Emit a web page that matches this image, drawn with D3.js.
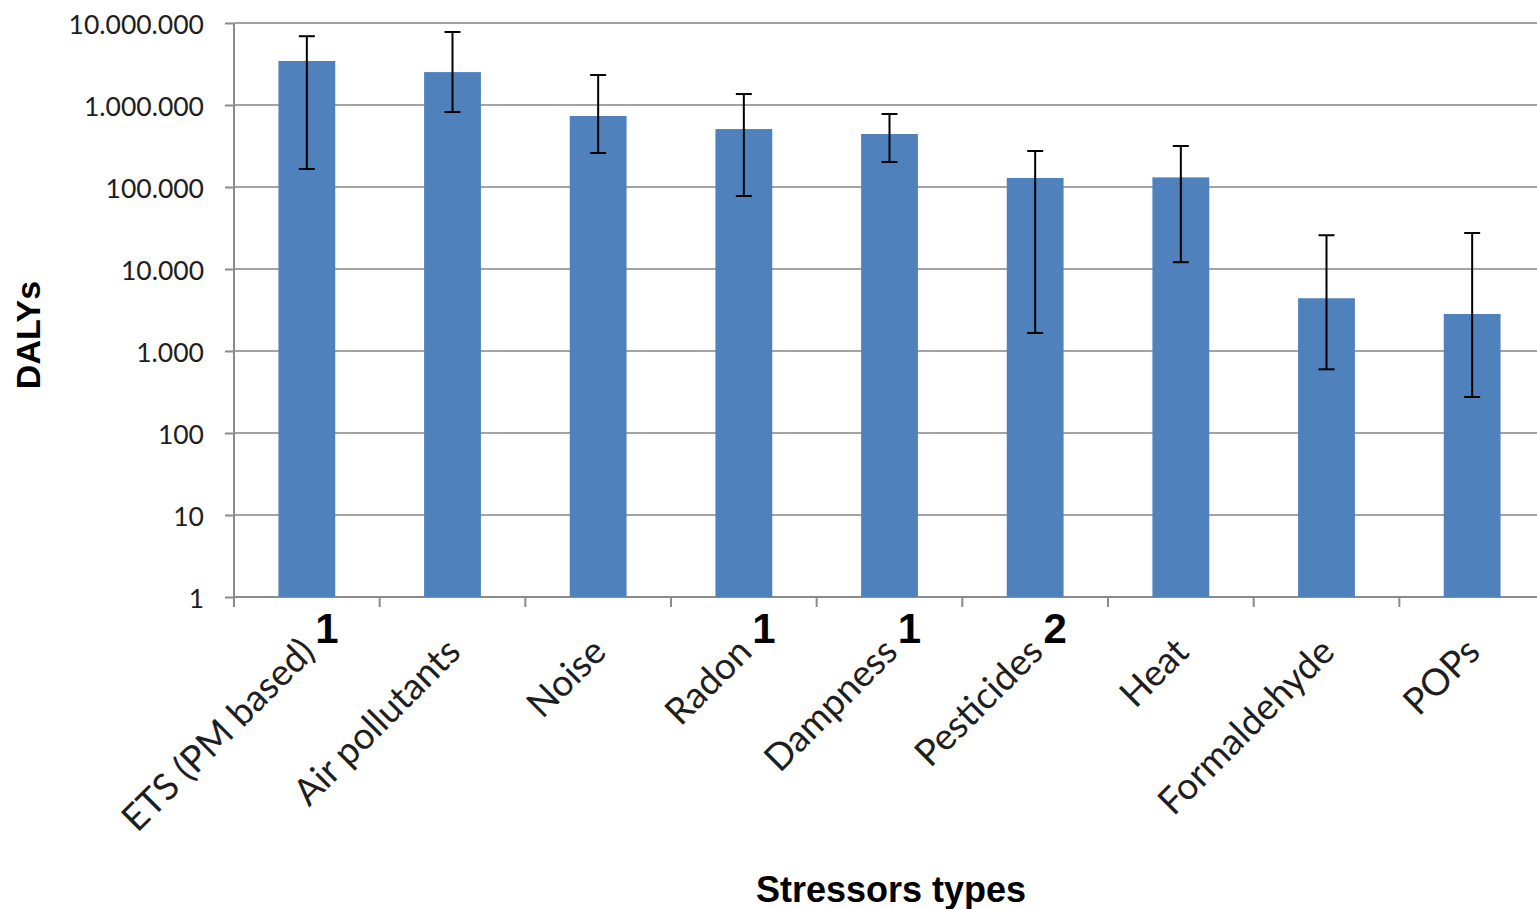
<!DOCTYPE html>
<html>
<head>
<meta charset="utf-8">
<script src="https://cdn.jsdelivr.net/npm/d3@7"></script>
<style>
  html, body { margin: 0; padding: 0; background: #fff; }
  svg { display: block; }
</style>
</head>
<body>
<svg id="chart" width="1537" height="909"></svg>
<script>
// Burden of disease per indoor stressor (DALYs), with uncertainty ranges
const categories = ["ETS (PM based)", "Air pollutants", "Noise", "Radon", "Dampness",
                    "Pesticides", "Heat", "Formaldehyde", "POPs"];
const dalys     = [3440000, 2520000, 735000, 509000, 443000, 129000, 131000, 4400, 2830];
const errLow    = [166000, 822000, 260000, 77600, 202000, 1660, 12100, 598, 275];
const errHigh   = [6900000, 7770000, 2320000, 1360000, 776000, 275000, 316000, 25800, 27500];
const footnotes = ["1", "", "", "1", "1", "2", "", "", ""];
const yTicks    = [1, 10, 100, 1000, 10000, 100000, 1000000, 10000000];

const svg = d3.select("#chart");
// the plot area runs slightly past the right edge of the canvas
const plotLeft = 234, plotRight = 1545, plotTop = 23, plotBottom = 597;

const x = d3.scaleBand().domain(categories).range([plotLeft, plotRight])
  .paddingInner(0.61).paddingOuter(0.305);
const y = d3.scaleLog().domain([1, 1e7]).range([plotBottom, plotTop]);

const fmt = d3.formatLocale({ decimal: ",", thousands: ".", grouping: [3], currency: ["", ""] }).format(",d");

// horizontal gridlines
svg.append("g")
  .selectAll("line").data(yTicks).join("line")
  .attr("x1", plotLeft).attr("x2", plotRight)
  .attr("y1", d => y(d)).attr("y2", d => y(d))
  .attr("stroke", "#a3a3a3").attr("stroke-width", 2);

// y axis
const yAxis = svg.append("g")
  .attr("transform", `translate(${plotLeft},0)`)
  .call(d3.axisLeft(y).tickValues(yTicks).tickFormat(fmt).tickSize(9).tickPadding(21));
yAxis.select(".domain").attr("stroke", "#8c8c8c").attr("stroke-width", 2)
  .attr("d", `M0,${plotTop}V${plotBottom + 10}`);
yAxis.selectAll(".tick line").attr("stroke", "#8c8c8c").attr("stroke-width", 2);
yAxis.selectAll(".tick text")
  .attr("font-family", "Lato, 'Liberation Sans', sans-serif")
  .attr("font-size", 26.5).attr("fill", "#1e1e1e").attr("dy", "0.38em");

// x axis baseline and category boundary ticks
const bounds = d3.range(categories.length + 1).map(i => plotLeft + i * x.step());
svg.append("line").attr("x1", plotLeft).attr("x2", plotRight)
  .attr("y1", plotBottom).attr("y2", plotBottom)
  .attr("stroke", "#8c8c8c").attr("stroke-width", 2);
svg.append("g").selectAll("line").data(bounds).join("line")
  .attr("x1", d => d).attr("x2", d => d)
  .attr("y1", plotBottom).attr("y2", plotBottom + 10)
  .attr("stroke", "#8c8c8c").attr("stroke-width", 2);

// bars
svg.append("g").selectAll("rect").data(categories).join("rect")
  .attr("x", d => x(d))
  .attr("width", x.bandwidth())
  .attr("y", (d, i) => y(dalys[i]))
  .attr("height", (d, i) => plotBottom - y(dalys[i]))
  .attr("fill", "#4f81bd");

// error bars
const cap = 8;
const eb = svg.append("g").attr("stroke", "#000").attr("stroke-width", 2);
categories.forEach((c, i) => {
  const cx = x(c) + x.bandwidth() / 2;
  eb.append("line").attr("x1", cx).attr("x2", cx)
    .attr("y1", y(errHigh[i])).attr("y2", y(errLow[i]));
  eb.append("line").attr("x1", cx - cap).attr("x2", cx + cap)
    .attr("y1", y(errHigh[i])).attr("y2", y(errHigh[i]));
  eb.append("line").attr("x1", cx - cap).attr("x2", cx + cap)
    .attr("y1", y(errLow[i])).attr("y2", y(errLow[i]));
});

// rotated category labels
svg.append("g").selectAll("text").data(categories).join("text")
  .attr("transform", d => `translate(${x(d) + x.bandwidth() / 2 + 10},${plotBottom + 57}) rotate(-45)`)
  .attr("text-anchor", "end")
  .attr("font-family", "Lato, 'Liberation Sans', sans-serif")
  .attr("font-size", 37).attr("fill", "#1e1e1e")
  .text(d => d);

// footnote markers
svg.append("g").selectAll("text").data(categories).join("text")
  .attr("x", d => x(d) + x.bandwidth() / 2 + 20)
  .attr("y", plotBottom + 46)
  .attr("text-anchor", "middle")
  .attr("font-family", "'Liberation Sans', Arial, sans-serif")
  .attr("font-weight", "bold").attr("font-size", 42).attr("fill", "#000")
  .text((d, i) => footnotes[i]);

// axis titles
svg.append("text")
  .attr("transform", `translate(40,335) rotate(-90)`)
  .attr("text-anchor", "middle")
  .attr("font-family", "'Liberation Sans', Arial, sans-serif")
  .attr("font-weight", "bold").attr("font-size", 34).attr("fill", "#000")
  .text("DALYs");

svg.append("text")
  .attr("x", 891).attr("y", 902)
  .attr("text-anchor", "middle")
  .attr("font-family", "'Liberation Sans', Arial, sans-serif")
  .attr("font-weight", "bold").attr("font-size", 36).attr("fill", "#000")
  .text("Stressors types");
</script>
</body>
</html>
